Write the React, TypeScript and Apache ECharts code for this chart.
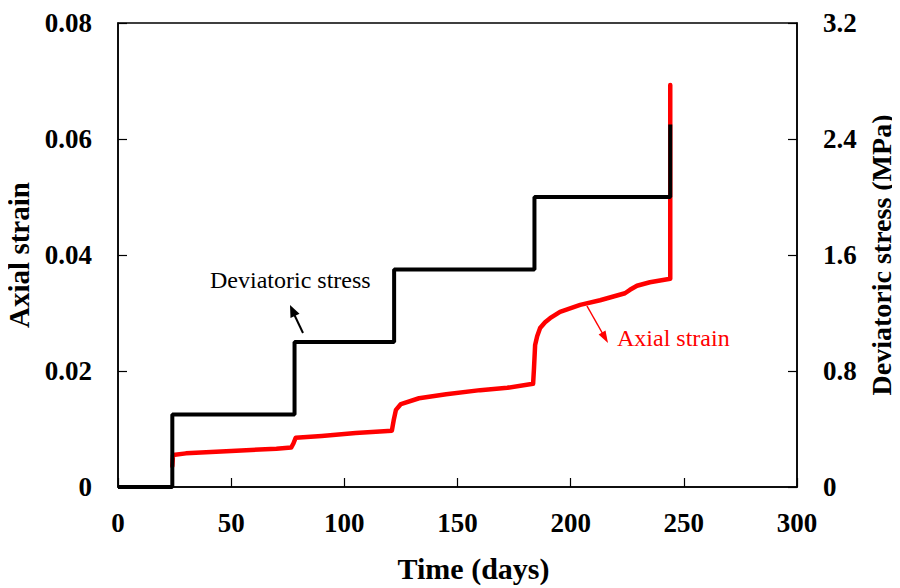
import React, { useEffect, useRef } from "react";
import * as echarts from "echarts";

const stressTime = [0, 24, 24, 78, 78, 122, 122, 184, 184, 244, 244];
const stressValues = [0, 0, 0.5, 0.5, 1.0, 1.0, 1.5, 1.5, 2.0, 2.0, 2.5];

const strainTime = [24, 24.3, 30, 50, 70, 76.5, 77.5, 78.5, 90, 105, 121, 121.8, 122.8, 125, 133, 145, 160, 172, 183.4, 183.8, 184.3, 185.2, 186.5, 188.7, 190.9, 195.3, 204.2, 213, 224, 226.2, 229.3, 235, 244, 244, 244];
const strainValues = [0.0036, 0.0055, 0.0058, 0.0062, 0.0066, 0.0068, 0.0075, 0.0085, 0.0088, 0.0093, 0.0097, 0.0115, 0.0133, 0.0143, 0.0153, 0.016, 0.0167, 0.0171, 0.0178, 0.0205, 0.0245, 0.026, 0.0274, 0.0284, 0.0291, 0.0302, 0.0314, 0.0322, 0.0334, 0.034, 0.0347, 0.0353, 0.0359, 0.05, 0.0693];

const xTicks = [0, 50, 100, 150, 200, 250, 300];
const leftTicks = ["0", "0.02", "0.04", "0.06", "0.08"];
const rightTicks = ["0", "0.8", "1.6", "2.4", "3.2"];

const FONT = "'Liberation Serif', 'Times New Roman', serif";

export default function App() {
  const ref = useRef<HTMLDivElement>(null);
  useEffect(() => {
    if (!ref.current) return;
    const chart = echarts.init(ref.current, null, { renderer: "svg" });
    const tickLabel = { fontFamily: FONT, fontSize: 27, fontWeight: "bold", color: "#000" };
    const title = { fontFamily: FONT, fontSize: 29, fontWeight: "bold", color: "#000" };
    chart.setOption({
      animation: false,
      backgroundColor: "#fff",
      grid: { left: 118, top: 23, right: 103, bottom: 101, show: true, borderColor: "#000", borderWidth: 1.5, backgroundColor: "transparent", outerBoundsMode: "none", containLabel: false },
      xAxis: {
        type: "value",
        min: 0,
        max: 300,
        interval: 50,
        name: "Time (days)",
        nameLocation: "middle",
        nameGap: 66,
        nameTextStyle: { ...title, fontSize: 30, padding: [0, 0, 0, 32] },
        axisLine: { show: true, lineStyle: { color: "#000", width: 1.5 } },
        axisTick: { show: true, inside: true, length: 9, lineStyle: { color: "#000", width: 1.2 } },
        axisLabel: { ...tickLabel, margin: 22, formatter: (v: number) => String(xTicks.includes(v) ? v : "") },
        splitLine: { show: false },
      },
      yAxis: [
        {
          type: "value",
          min: 0,
          max: 0.08,
          interval: 0.02,
          position: "left",
          name: "Axial strain",
          nameLocation: "middle",
          nameGap: 78,
          nameRotate: 90,
          nameTextStyle: title,
          axisLine: { show: true, lineStyle: { color: "#000", width: 1.5 } },
          axisTick: { show: true, inside: true, length: 9, lineStyle: { color: "#000", width: 1.2 } },
          axisLabel: { ...tickLabel, margin: 26, formatter: (v: number) => leftTicks[Math.round(v / 0.02)] ?? "" },
          splitLine: { show: false },
        },
        {
          type: "value",
          min: 0,
          max: 3.2,
          interval: 0.8,
          position: "right",
          name: "Deviatoric stress (MPa)",
          nameLocation: "middle",
          nameGap: 69,
          nameRotate: 90,
          nameTextStyle: { ...title, fontSize: 28 },
          axisLine: { show: true, lineStyle: { color: "#000", width: 1.5 } },
          axisTick: { show: true, inside: true, length: 9, lineStyle: { color: "#000", width: 1.2 } },
          axisLabel: { ...tickLabel, margin: 26, formatter: (v: number) => rightTicks[Math.round(v / 0.8)] ?? "" },
          splitLine: { show: false },
        },
      ],
      series: [
        {
          type: "line",
          yAxisIndex: 0,
          data: strainTime.map((t, i) => [t, strainValues[i]]),
          symbol: "none",
          lineStyle: { color: "#ff0000", width: 4.5, join: "round", cap: "round" },
          z: 2,
        },
        {
          type: "line",
          yAxisIndex: 1,
          data: stressTime.map((t, i) => [t, stressValues[i]]),
          symbol: "none",
          lineStyle: { color: "#000", width: 4 },
          z: 3,
        },
      ],
      graphic: [
        { type: "text", left: 210, top: 268, style: { text: "Deviatoric stress", font: `24px ${FONT}`, fill: "#000" } },
        { type: "line", shape: { x1: 303, y1: 333, x2: 293, y2: 312 }, style: { stroke: "#000", lineWidth: 2 } },
        { type: "polygon", shape: { points: [[290, 305], [299.5, 313.8], [290.5, 318]] }, style: { fill: "#000" } },
        { type: "text", left: 617, top: 326, style: { text: "Axial strain", font: `24px ${FONT}`, fill: "#ff0000" } },
        { type: "line", shape: { x1: 587, y1: 306, x2: 604, y2: 336 }, style: { stroke: "#ff0000", lineWidth: 1.5 } },
        { type: "polygon", shape: { points: [[608, 343], [605.5, 330.5], [598.6, 334.5]] }, style: { fill: "#ff0000" } },
      ],
    });
    return () => chart.dispose();
  }, []);
  return <div ref={ref} style={{ width: 900, height: 588, marginLeft: -8, marginTop: -8 }} />;
}
